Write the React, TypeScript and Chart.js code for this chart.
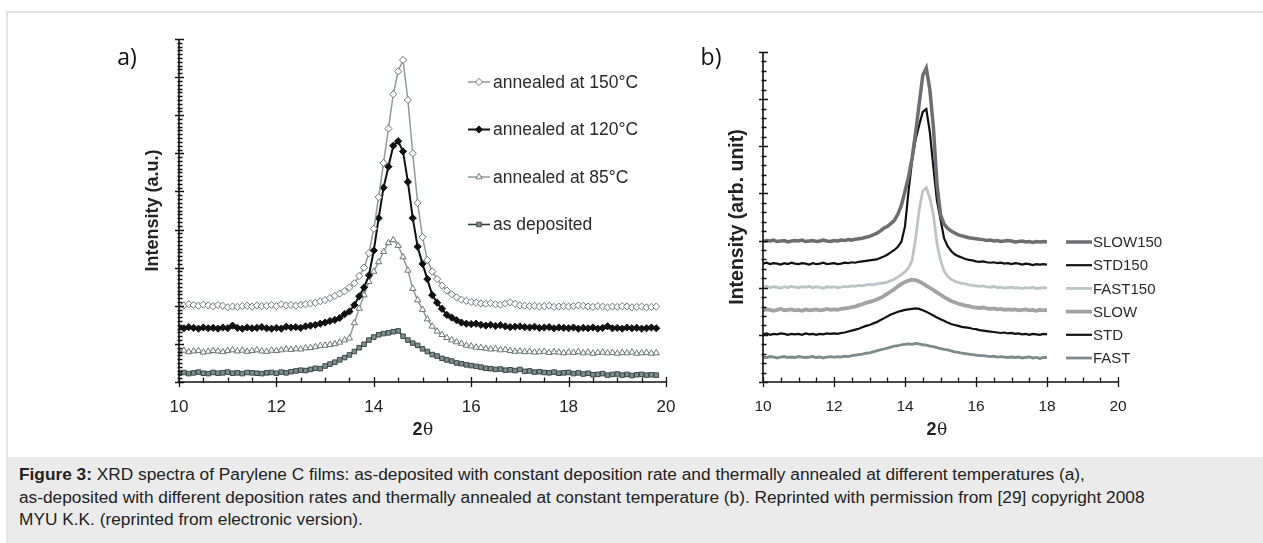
import React, { useEffect, useRef } from 'react';
import { Chart, registerables } from 'chart.js';

Chart.register(...registerables);

// ---------------- Panel a data (2θ from 10.0, step 0.1) ----------------
const A_X_START = 10.0;
const A_X_STEP = 0.1;
const A_X_TICKS = [10, 12, 14, 16, 18, 20];
const A_LABELS = ['annealed at 150°C', 'annealed at 120°C', 'annealed at 85°C', 'as deposited'];

const A_150 = [
  20.3, 20.1, 20.4, 20.2, 20.0, 20.3, 20.1, 19.9, 20.2, 20.0,
  19.6, 19.8, 19.7, 19.9, 20.0, 19.8, 20.1, 19.9, 20.0, 20.2,
  19.9, 20.4, 20.1, 20.2, 20.0, 20.3, 20.4, 20.6, 20.8, 21.2,
  21.5, 22.0, 22.6, 23.2, 23.8, 24.8, 25.9, 27.8, 30.0, 33.8,
  40.2, 48.5, 57.5, 66.5, 75.5, 81.5, 84.5, 74.0, 60.0, 47.0,
  38.0, 32.0, 29.0, 27.0, 25.3, 24.0, 23.0, 22.2, 21.6, 21.3,
  21.0, 20.8, 20.6, 20.5, 20.7, 20.4, 20.3, 20.6, 20.9, 20.5,
  20.1, 20.0, 19.9, 20.0, 19.8, 19.9, 20.0, 19.7, 19.8, 19.9,
  19.8, 19.9, 20.1, 20.0, 19.8, 19.7, 19.9, 19.8, 19.6, 19.8,
  19.7, 19.9, 19.8, 19.6, 19.7, 19.8, 19.6, 19.7, 19.8,
];
const A_120 = [
  14.3, 14.1, 14.4, 14.2, 14.0, 14.3, 14.1, 14.2, 14.0, 14.3,
  14.1, 14.8, 14.2, 14.0, 14.3, 14.1, 14.2, 14.4, 14.1, 14.0,
  14.2, 14.0, 14.5, 14.3, 14.4, 14.2, 14.6, 14.8, 15.0, 15.3,
  15.6, 16.0, 16.3, 16.8, 17.8, 18.5, 20.2, 22.5, 24.8, 28.0,
  34.5, 43.0, 51.0, 56.5, 62.0, 63.2, 60.5, 52.5, 43.0, 35.5,
  31.0, 27.0, 22.8, 20.8, 19.2, 17.6, 16.9, 16.2, 15.6, 15.3,
  15.2, 15.3, 15.0, 14.8, 15.0, 14.7, 14.9, 14.6, 14.4, 14.5,
  14.6, 14.4, 14.3, 14.5, 14.2, 14.3, 14.4, 14.1, 14.3, 14.2,
  14.1, 14.3, 14.0, 14.2, 14.1, 14.3, 14.0, 14.2, 14.6, 14.1,
  14.2, 14.0, 14.3, 14.1, 14.2, 14.0, 14.1, 14.3, 14.1,
];
const A_85 = [
  8.0, 8.3, 7.9, 8.1, 8.2, 7.8, 8.0, 8.2, 8.1, 7.9,
  8.2, 8.4, 8.1, 8.3, 8.0, 8.2, 8.4, 8.1, 8.0, 8.3,
  8.2, 8.4, 8.6, 8.5, 8.7, 8.6, 8.9, 9.0, 9.2, 9.5,
  9.6, 9.8, 10.0, 10.4, 11.0, 11.5, 15.5, 19.3, 22.8, 26.3,
  29.0, 31.5, 34.2, 36.5, 37.3, 35.8, 32.8, 29.3, 24.5, 21.5,
  19.0, 16.5, 14.6, 13.3, 12.4, 11.6, 11.0, 10.5, 10.1, 9.6,
  9.4, 9.1, 9.0, 8.8, 8.6, 8.7, 8.4, 8.5, 8.2, 8.0,
  8.1, 7.9, 8.0, 7.8, 7.9, 8.0, 7.7, 7.9, 7.8, 7.6,
  7.8, 7.7, 7.9, 7.6, 7.8, 7.5, 7.7, 7.8, 7.6, 7.7,
  7.5, 7.7, 7.6, 7.8, 7.5, 7.6, 7.7, 7.5, 7.6,
];
const A_DEP = [
  2.3, 2.5, 2.2, 2.4, 2.6, 2.3, 2.2, 2.5, 2.3, 2.4,
  2.6, 2.3, 2.4, 2.2, 2.5, 2.4, 2.3, 2.2, 2.4, 2.5,
  2.3, 2.6, 2.4, 2.7, 2.9, 3.1, 3.0, 3.3, 3.6, 3.5,
  4.2, 4.7, 5.2, 5.8, 6.4, 7.1, 8.0, 9.0, 9.9, 11.0,
  11.8, 12.4, 12.7, 12.9, 13.2, 13.4, 12.0, 11.0, 10.2, 9.6,
  8.7, 8.0, 7.2, 6.8, 6.2, 5.8, 5.5, 5.0, 4.8, 4.5,
  4.3, 4.1, 3.9, 3.6, 3.5, 3.3, 3.4, 3.1, 3.2, 3.0,
  3.3, 2.8, 2.9, 2.6, 2.7, 2.5, 2.4, 2.6, 2.3, 2.4,
  2.5, 2.2, 2.4, 2.1, 2.3, 1.9, 2.0, 2.2, 1.8, 2.0,
  2.1, 1.8, 2.0, 1.7, 1.9, 2.0, 1.8, 1.9, 1.8,
];

// ---------------- Panel b data (2θ from 10.0, step 0.1) ----------------
const B_X_START = 10.0;
const B_X_STEP = 0.1;
const B_X_TICKS = [10, 12, 14, 16, 18, 20];
const B_LABELS = ['SLOW150', 'STD150', 'FAST150', 'SLOW', 'STD', 'FAST'];

const B_SLOW150 = [
  29.8, 30.0, 29.9, 30.1, 29.8, 29.9, 30.0, 29.7, 29.9, 30.0,
  29.9, 30.1, 29.8, 29.9, 30.0, 29.8, 29.9, 30.1, 29.9, 29.8,
  30.0, 29.9, 30.1, 30.0, 30.2, 30.1, 30.3, 30.4, 30.5, 30.7,
  30.9, 31.2, 31.5, 32.0, 32.6, 33.0, 33.6, 34.3, 35.6, 37.5,
  40.5, 43.5, 47.5, 53.0, 59.0, 65.0, 66.6, 62.0, 54.0, 42.0,
  35.5, 33.5, 32.6, 32.0, 31.6, 31.2, 31.0, 30.8, 30.6, 30.5,
  30.4, 30.3, 30.2, 30.0, 30.1, 29.9, 30.0, 29.8, 29.9, 30.0,
  29.9, 29.7, 29.8, 29.9, 29.7, 29.8, 29.6, 29.8, 29.7, 29.8,
  29.7,
];
const B_STD150 = [
  25.1, 25.3, 25.0, 25.2, 25.1, 24.9, 25.2, 25.0, 25.3, 25.1,
  25.0, 25.2, 25.1, 24.9, 25.2, 25.0, 25.1, 25.3, 25.0, 25.1,
  25.2, 25.0, 25.1, 25.3, 25.2, 25.4, 25.3, 25.5, 25.6, 25.7,
  25.8, 25.9, 26.0, 26.3, 26.6, 27.0, 27.5, 28.0, 28.7, 29.8,
  33.0, 40.5, 47.0, 51.5, 54.5, 57.3, 57.9, 53.0, 45.5, 38.5,
  34.5, 30.5, 28.8, 27.8, 27.1, 26.7, 26.4, 26.1, 25.9, 25.8,
  25.6, 25.5, 25.6, 25.4, 25.3, 25.4, 25.2, 25.3, 25.1, 25.2,
  25.0, 25.2, 25.1, 24.9, 25.1, 25.0, 24.8, 25.0, 24.9, 25.0,
  24.9,
];
const B_FAST150 = [
  20.1, 20.3, 20.0, 20.2, 20.1, 19.9, 20.2, 20.0, 20.3, 20.1,
  20.0, 20.2, 20.1, 20.3, 20.0, 20.2, 20.1, 19.9, 20.2, 20.1,
  20.2, 20.0, 20.1, 20.3, 20.2, 20.4, 20.3, 20.5, 20.4, 20.6,
  20.7, 20.6, 20.8, 20.9, 21.0, 21.2, 21.5, 21.8, 22.3, 22.8,
  23.4, 24.2, 25.8, 30.5, 36.5, 40.5, 41.2, 39.0, 35.5, 29.5,
  25.8, 23.5, 22.4, 21.8, 21.4, 21.1, 20.9, 20.8, 20.6, 20.5,
  20.4, 20.3, 20.4, 20.2, 20.1, 20.3, 20.0, 20.1, 19.9, 20.0,
  20.1, 19.9, 20.0, 19.8, 20.0, 19.9, 20.1, 19.8, 19.9, 20.0,
  19.9,
];
const B_SLOW = [
  15.2, 15.4, 15.3, 15.1, 15.3, 15.5, 15.2, 15.3, 15.4, 15.2,
  15.3, 15.1, 15.4, 15.2, 15.3, 15.4, 15.2, 15.3, 15.5, 15.3,
  15.4, 15.3, 15.5, 15.6, 15.7, 15.9, 16.0, 16.3, 16.5, 16.8,
  17.0, 17.2, 17.5, 17.8, 18.2, 18.7, 19.2, 19.7, 20.3, 20.8,
  21.2, 21.5, 21.7, 21.6, 21.3, 20.9, 20.4, 20.0, 19.5, 19.0,
  18.5, 18.0, 17.6, 17.2, 16.9, 16.6, 16.4, 16.2, 16.1, 15.9,
  15.8, 15.7, 15.8, 15.6, 15.5, 15.6, 15.4, 15.5, 15.3, 15.4,
  15.3, 15.4, 15.2, 15.3, 15.4, 15.2, 15.3, 15.1, 15.3, 15.2,
  15.3,
];
const B_STD = [
  10.1, 10.3, 10.0, 10.2, 10.1, 10.3, 10.2, 10.0, 10.2, 10.1,
  10.2, 10.0, 10.3, 10.1, 10.2, 10.0, 10.2, 10.1, 10.3, 10.2,
  10.3, 10.2, 10.4, 10.5, 10.7, 10.9, 11.1, 11.3, 11.6, 11.9,
  12.1, 12.4, 12.7, 13.1, 13.5, 13.9, 14.3, 14.6, 14.9, 15.1,
  15.3, 15.4, 15.5, 15.6, 15.5, 15.2, 14.9, 14.5, 14.1, 13.7,
  13.3, 13.0, 12.6, 12.3, 12.1, 11.9, 11.7, 11.6, 11.5, 11.3,
  11.2, 11.0, 10.9, 10.8, 10.7, 10.6, 10.5, 10.4, 10.5, 10.3,
  10.4, 10.2, 10.3, 10.1, 10.2, 10.0, 10.2, 10.1, 10.0, 10.2,
  10.1,
];
const B_FAST = [
  5.3, 5.2, 5.4, 5.3, 5.1, 5.3, 5.4, 5.2, 5.3, 5.2,
  5.4, 5.3, 5.2, 5.3, 5.4, 5.2, 5.3, 5.1, 5.3, 5.4,
  5.3, 5.4, 5.3, 5.5, 5.4, 5.6, 5.7, 5.8, 5.9, 6.1,
  6.2, 6.4, 6.6, 6.8, 7.0, 7.2, 7.4, 7.6, 7.7, 7.9,
  8.0, 8.1, 8.0, 8.2, 8.1, 7.9, 7.8, 7.6, 7.5, 7.3,
  7.1, 6.9, 6.8, 6.6, 6.4, 6.3, 6.1, 6.0, 5.9, 5.8,
  5.7, 5.6, 5.6, 5.5, 5.4, 5.5, 5.3, 5.4, 5.3, 5.2,
  5.3, 5.2, 5.3, 5.1, 5.2, 5.3, 5.1, 5.2, 5.0, 5.2,
  5.2,
];

const CAPTION_BOLD = 'Figure 3:';
const CAPTION_LINES = [
  ' XRD spectra of Parylene C films: as-deposited with constant deposition rate and thermally annealed at different temperatures (a),',
  'as-deposited with different deposition rates and thermally annealed at constant temperature (b). Reprinted with permission from [29] copyright 2008',
  'MYU K.K. (reprinted from electronic version).',
];

const SANS = '"Liberation Sans", Arial, Helvetica, sans-serif';

function toPoints(start: number, step: number, ys: number[]) {
  return ys.map((v, i) => ({ x: +(start + i * step).toFixed(2), y: v }));
}

function drawMarker(ctx: CanvasRenderingContext2D, style: string, x: number, y: number, r: number) {
  ctx.beginPath();
  if (style === 'rectRot') {
    ctx.moveTo(x, y - r);
    ctx.lineTo(x + r, y);
    ctx.lineTo(x, y + r);
    ctx.lineTo(x - r, y);
    ctx.closePath();
  } else if (style === 'triangle') {
    ctx.moveTo(x, y - r);
    ctx.lineTo(x + r * 0.866, y + r * 0.5);
    ctx.lineTo(x - r * 0.866, y + r * 0.5);
    ctx.closePath();
  } else {
    const s = r * 0.707;
    ctx.rect(x - s, y - s, 2 * s, 2 * s);
  }
  ctx.fill();
  ctx.stroke();
}

type AxisCfg = {
  yMax: number;
  yMajor: number;
  yMinor: number;
  xTicks: number[];
  xMinor: number;
  tickFont: string;
  titleFont: string;
  yTitle: string;
  panel: string;
  titleShift: number;
};

function makeAxesPlugin(cfg: AxisCfg, legend: (chart: any) => void) {
  return {
    id: 'customAxes',
    afterDatasetsDraw(chart: any) {
      const { ctx, chartArea: ca, scales } = chart;
      const xs = scales.x;
      const ys = scales.y;
      ctx.save();
      ctx.strokeStyle = '#111';
      ctx.lineWidth = 1.6;
      ctx.lineCap = 'butt';
      ctx.beginPath();
      ctx.moveTo(ca.left, ca.top);
      ctx.lineTo(ca.left, ca.bottom);
      ctx.moveTo(ca.left, ca.bottom);
      ctx.lineTo(ca.right, ca.bottom);
      ctx.stroke();
      // y ticks
      ctx.lineWidth = 1.3;
      ctx.beginPath();
      for (let v = 0; v <= cfg.yMax + 1e-6; v += cfg.yMinor) {
        const py = Math.round(ys.getPixelForValue(v)) + 0.5;
        const major = Math.abs(v / cfg.yMajor - Math.round(v / cfg.yMajor)) < 1e-6;
        if (major) {
          ctx.moveTo(ca.left - 4, py);
          ctx.lineTo(ca.left + 5, py);
        } else {
          ctx.moveTo(ca.left - 1.5, py);
          ctx.lineTo(ca.left + 3.5, py);
        }
      }
      ctx.stroke();
      // x ticks
      ctx.beginPath();
      for (let v = xs.min; v <= xs.max + 1e-6; v += cfg.xMinor) {
        const px = Math.round(xs.getPixelForValue(v)) + 0.5;
        const major = cfg.xTicks.some((t) => Math.abs(t - v) < 1e-6);
        if (major) {
          ctx.moveTo(px, ca.bottom - 5);
          ctx.lineTo(px, ca.bottom + 5);
        } else {
          ctx.moveTo(px, ca.bottom - 4.5);
          ctx.lineTo(px, ca.bottom + 1);
        }
      }
      ctx.stroke();
      // tick labels
      ctx.fillStyle = '#222';
      ctx.font = cfg.tickFont;
      ctx.textAlign = 'center';
      ctx.textBaseline = 'middle';
      cfg.xTicks.forEach((t) => {
        ctx.fillText(String(t), xs.getPixelForValue(t), ca.bottom + 25);
      });
      // x title 2θ
      const cx = (ca.left + ca.right) / 2 + cfg.titleShift;
      ctx.font = 'bold 18px ' + SANS;
      const w2 = ctx.measureText('2').width;
      ctx.font = '17px "DejaVu Serif", "Liberation Serif", serif';
      const wt = ctx.measureText('θ').width;
      const startX = cx - (w2 + wt) / 2;
      ctx.textAlign = 'left';
      ctx.font = 'bold 18px ' + SANS;
      ctx.fillText('2', startX, ca.bottom + 48);
      ctx.font = '17px "DejaVu Serif", "Liberation Serif", serif';
      ctx.fillText('θ', startX + w2 + 0.5, ca.bottom + 49);
      // y title
      ctx.save();
      ctx.translate(ca.left - 25.5, (ca.top + ca.bottom) / 2);
      ctx.rotate(-Math.PI / 2);
      ctx.textAlign = 'center';
      ctx.font = cfg.titleFont;
      ctx.fillText(cfg.yTitle, 0, 0);
      ctx.restore();
      // panel label
      ctx.font = '23px "Open Sans", "Noto Sans", sans-serif';
      ctx.fillStyle = '#111';
      ctx.textAlign = 'center';
      ctx.fillText(cfg.panel, ca.left - 52, 58 - chart.canvas.offsetTop);
      legend(chart);
      ctx.restore();
    },
  };
}

const A_STYLES = [
  { line: '#8d9b9b', width: 1.5, style: 'rectRot', r: 3.6, fill: '#ffffff', stroke: '#6a7676' },
  { line: '#111111', width: 2, style: 'rectRot', r: 3.6, fill: '#111111', stroke: '#111111' },
  { line: '#8d9b9b', width: 1.5, style: 'triangle', r: 3.6, fill: '#ffffff', stroke: '#6a7676' },
  { line: '#344040', width: 1.6, style: 'rect', r: 3.2, fill: '#7f8f8f', stroke: '#3a4646' },
];

const B_STYLES = [
  { line: '#6d6d72', width: 3.5 },
  { line: '#111111', width: 2.2 },
  { line: '#bcc5c5', width: 2.8 },
  { line: '#a3a3a6', width: 3.8 },
  { line: '#111111', width: 2.2 },
  { line: '#7c8c8c', width: 2.8 },
];

function PanelA() {
  const ref = useRef<HTMLCanvasElement>(null);
  useEffect(() => {
    const canvas = ref.current!;
    const series = [A_150, A_120, A_85, A_DEP];
    const legendA = (chart: any) => {
      const { ctx, chartArea: ca } = chart;
      ctx.save();
      series.forEach((_, i) => {
        const s = A_STYLES[i];
        const y = ca.top + 43 + i * 47.5;
        const x0 = ca.left + 289;
        const x1 = x0 + 22;
        ctx.strokeStyle = s.line;
        ctx.lineWidth = s.width;
        ctx.beginPath();
        ctx.moveTo(x0, y);
        ctx.lineTo(x1, y);
        ctx.stroke();
        ctx.fillStyle = s.fill;
        ctx.strokeStyle = s.stroke;
        ctx.lineWidth = 1;
        drawMarker(ctx, s.style, (x0 + x1) / 2, y, s.r);
        ctx.fillStyle = '#2a2a2a';
        ctx.font = '17.5px ' + SANS;
        ctx.textAlign = 'left';
        ctx.textBaseline = 'middle';
        ctx.fillText(A_LABELS[i], x1 + 3, y + 1);
      });
      ctx.restore();
    };
    const chart = new Chart(canvas, {
      type: 'line',
      data: {
        datasets: series.map((d, i) => ({
          label: A_LABELS[i],
          data: toPoints(A_X_START, A_X_STEP, d),
          borderColor: A_STYLES[i].line,
          borderWidth: A_STYLES[i].width,
          pointStyle: A_STYLES[i].style as any,
          pointRadius: A_STYLES[i].r,
          pointBackgroundColor: A_STYLES[i].fill,
          pointBorderColor: A_STYLES[i].stroke,
          pointBorderWidth: 1,
          tension: 0,
          fill: false,
        })),
      },
      options: {
        animation: false,
        responsive: false,
        maintainAspectRatio: false,
        events: [],
        layout: { padding: { left: 79, top: 19, right: 34, bottom: 68 } },
        scales: {
          x: { type: 'linear', min: 10, max: 20, display: false },
          y: { type: 'linear', min: 0, max: 90, display: false },
        },
        plugins: { legend: { display: false }, tooltip: { enabled: false } },
      },
      plugins: [
        makeAxesPlugin(
          {
            yMax: 90, yMajor: 10, yMinor: 1, xTicks: A_X_TICKS, xMinor: 0.5,
            tickFont: '17px ' + SANS, titleFont: 'bold 18px ' + SANS,
            yTitle: 'Intensity (a.u.)', panel: 'a)', titleShift: 0,
          },
          legendA,
        ),
      ],
    });
    return () => chart.destroy();
  }, []);
  return (
    <canvas
      ref={ref}
      width={600}
      height={430}
      style={{ position: 'absolute', left: 100, top: 20, width: 600, height: 430 }}
    />
  );
}

function PanelB() {
  const ref = useRef<HTMLCanvasElement>(null);
  useEffect(() => {
    const canvas = ref.current!;
    const series = [B_SLOW150, B_STD150, B_FAST150, B_SLOW, B_STD, B_FAST];
    const legendB = (chart: any) => {
      const { ctx, chartArea: ca } = chart;
      ctx.save();
      series.forEach((_, i) => {
        const s = B_STYLES[i];
        const y = ca.top + 190 + i * 23.2;
        const x0 = ca.right - 52;
        const x1 = x0 + 26;
        ctx.strokeStyle = s.line;
        ctx.lineWidth = s.width;
        ctx.beginPath();
        ctx.moveTo(x0, y);
        ctx.lineTo(x1, y);
        ctx.stroke();
        ctx.fillStyle = '#2a2a2a';
        ctx.font = '15px ' + SANS;
        ctx.textAlign = 'left';
        ctx.textBaseline = 'middle';
        ctx.fillText(B_LABELS[i], x1 + 1, y + 1);
      });
      ctx.restore();
    };
    const chart = new Chart(canvas, {
      type: 'line',
      data: {
        datasets: series.map((d, i) => ({
          label: B_LABELS[i],
          data: toPoints(B_X_START, B_X_STEP, d),
          borderColor: B_STYLES[i].line,
          borderWidth: B_STYLES[i].width,
          pointRadius: 0,
          tension: 0,
          fill: false,
        })),
      },
      options: {
        animation: false,
        responsive: false,
        maintainAspectRatio: false,
        events: [],
        layout: { padding: { left: 63, top: 32, right: 142, bottom: 68 } },
        scales: {
          x: { type: 'linear', min: 10, max: 20, display: false },
          y: { type: 'linear', min: 0, max: 70, display: false },
        },
        plugins: { legend: { display: false }, tooltip: { enabled: false } },
      },
      plugins: [
        makeAxesPlugin(
          {
            yMax: 70, yMajor: 10, yMinor: 2, xTicks: B_X_TICKS, xMinor: 0.5,
            tickFont: '15.5px ' + SANS, titleFont: 'bold 19.5px ' + SANS,
            yTitle: 'Intensity (arb. unit)', panel: 'b)', titleShift: -4,
          },
          legendB,
        ),
      ],
    });
    return () => chart.destroy();
  }, []);
  return (
    <canvas
      ref={ref}
      width={560}
      height={430}
      style={{ position: 'absolute', left: 700, top: 20, width: 560, height: 430 }}
    />
  );
}

export default function App() {
  return (
    <div
      style={{
        position: 'fixed',
        left: 0,
        top: 0,
        width: 1263,
        height: 543,
        background: '#ffffff',
        overflow: 'hidden',
      }}
    >
      <div
        style={{
          position: 'absolute',
          left: 6,
          top: 11,
          right: -10,
          bottom: -10,
          borderLeft: '2px solid #e2e2e2',
          borderTop: '2px solid #e2e2e2',
        }}
      />
      <PanelA />
      <PanelB />
      <div
        style={{
          position: 'absolute',
          left: 8,
          top: 457,
          right: 0,
          bottom: 0,
          background: '#ebebeb',
          paddingLeft: 11,
          paddingTop: 6,
          boxSizing: 'border-box',
          fontFamily: SANS,
          fontSize: 17.3,
          lineHeight: '22.5px',
          color: '#222',
          whiteSpace: 'nowrap',
        }}
      >
        <div>
          <b>{CAPTION_BOLD}</b>
          {CAPTION_LINES[0]}
        </div>
        <div>{CAPTION_LINES[1]}</div>
        <div>{CAPTION_LINES[2]}</div>
      </div>
    </div>
  );
}
